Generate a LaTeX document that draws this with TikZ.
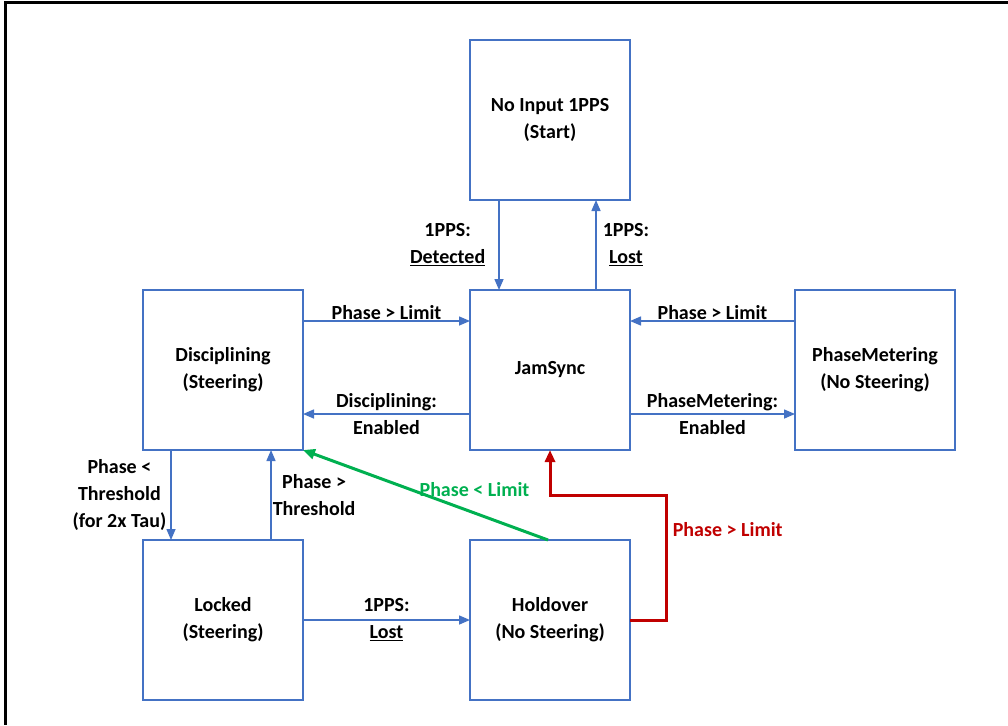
\documentclass[tikz,border=0pt]{standalone}
\usepackage{fontspec}
\setmainfont{Carlito}
\usetikzlibrary{positioning,arrows.meta}

\definecolor{boxblue}{HTML}{4472C4}
\definecolor{okgreen}{HTML}{00B050}
\definecolor{alarmred}{HTML}{C00000}

\tikzset{
    statebox/.style={draw=boxblue, line width=1.5pt, minimum width=160pt, minimum height=160pt,
        inner sep=0pt, outer sep=0pt, align=center},
    flow/.style={boxblue, line width=1.5pt, -{Triangle[length=11pt,width=9pt]}},
    bigflow/.style={line width=3pt, -{Triangle[length=12pt,width=10pt]}},
    lbl/.style={text=black, align=center, inner sep=1pt}
}

\begin{document}
\begin{tikzpicture}[x=1pt, y=-1pt, font=\fontsize{20}{27}\selectfont\bfseries]
    \useasboundingbox (0,0) rectangle (1008,725);
    \draw[black, line width=3pt] (1008,3) -- (5,3) -- (5,725);

    \node[statebox] (jam) at (550,370) {JamSync};
    \node[statebox, above=90pt of jam] (nostart) {No Input 1PPS\\(Start)};
    \node[statebox, left=167pt of jam] (disc) {Disciplining\\(Steering)};
    \node[statebox, right=165pt of jam] (meter) {PhaseMetering\\(No Steering)};
    \node[statebox, below=90pt of disc] (locked) {Locked\\(Steering)};
    \node[statebox, below=90pt of jam] (hold) {Holdover\\(No Steering)};
    \coordinate[below=45pt of jam.south] (kink);

    \draw[flow] ([xshift=-51pt]nostart.south) -- node[lbl, left=12pt] {1PPS:\\\underline{Detected}} ([xshift=-51pt]jam.north);
    \draw[flow] ([xshift=46pt]jam.north) -- node[lbl, right=5pt] {1PPS:\\\underline{Lost}} ([xshift=46pt]nostart.south);

    \draw[flow] ([yshift=49pt]disc.east) -- node[lbl, above] {Phase > Limit} ([yshift=49pt]jam.west);
    \draw[flow] ([yshift=-44pt]jam.west) -- node[lbl, fill=none] {Disciplining:\\Enabled} ([yshift=-44pt]disc.east);
    \draw[flow] ([yshift=49pt]meter.west) -- node[lbl, above] {Phase > Limit} ([yshift=49pt]jam.east);
    \draw[flow] ([yshift=-44pt]jam.east) -- node[lbl] {PhaseMetering:\\Enabled} ([yshift=-44pt]meter.west);

    \draw[flow] ([xshift=-52pt]disc.south) -- node[lbl, left=3pt] {Phase <\\Threshold\\(for 2x Tau)} ([xshift=-52pt]locked.north);
    \draw[flow] ([xshift=48pt]locked.north) -- node[lbl, right=0pt] {Phase >\\Threshold} ([xshift=48pt]disc.south);
    \draw[flow] (locked.east) -- node[lbl] {1PPS:\\\underline{Lost}} (hold.east -| hold.west);

    \draw[bigflow, okgreen] ([xshift=-2pt]hold.north) -- node[pos=0.3, yshift=23pt, text=okgreen] {Phase < Limit} (disc.south east);
    \draw[bigflow, alarmred] (hold.east) -- ++(36,0) |- node[pos=0.36, right=2pt, text=alarmred] {Phase > Limit} (kink) -- (jam.south);
\end{tikzpicture}
\end{document}
